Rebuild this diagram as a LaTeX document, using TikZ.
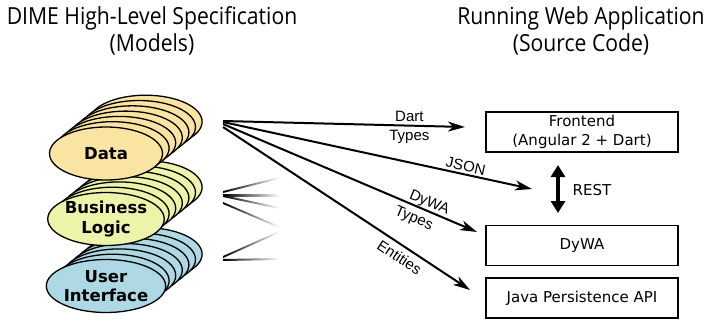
\documentclass[tikz,border=0pt]{standalone}
\usepackage{fontspec}
\setmainfont{DejaVu Sans}
\newfontfamily\labelfont{Liberation Sans}
\newfontfamily\titlefont[FakeStretch=0.9]{Open Sans}
\usetikzlibrary{arrows.meta,shapes.geometric}
\definecolor{ink}{HTML}{000000}
\definecolor{datafill}{HTML}{F9E4A2}
\definecolor{logicfill}{HTML}{EDF3A8}
\definecolor{uifill}{HTML}{ADD8E4}

\begin{document}
\begin{tikzpicture}[x=1pt,y=-1pt,text=ink,>={Stealth[length=17pt,width=10pt,inset=5pt]},
  layer/.style={ellipse,draw=ink,line width=1.3pt,minimum width=113pt,minimum height=53pt,inner sep=0pt},
  layertext/.style={font=\fontsize{16.5}{19.5}\selectfont\bfseries,align=center},
  part/.style={draw=ink,line width=1.5pt,minimum width=192pt,minimum height=40pt,inner sep=1pt,
    font=\fontsize{15}{19}\selectfont,align=center},
  flow/.style={->,line width=2pt,draw=ink},
  lbl/.style={font=\labelfont\fontsize{15}{17}\selectfont,inner sep=1pt},
  title/.style={font=\titlefont\fontsize{23.5}{27}\selectfont,align=center}]
  \useasboundingbox (0,0) rectangle (715,322);
  \node[title] (spec) at (152,31) {DIME High-Level Specification\\(Models)};
  \node[title] (app) at (581,31) {Running Web Application\\(Source Code)};

  \foreach \i in {6,...,1}{
    \node[layer,fill=uifill] (ui-\i) at (106+6.6*\i,286-5.3*\i) {};
  }
  \node[layer,fill=uifill,layertext] (ui) at (106,286) {User\\Interface};
  \foreach \i in {6,...,1}{
    \node[layer,fill=logicfill] (logic-\i) at (106+6.6*\i,219-5.3*\i) {};
  }
  \node[layer,fill=logicfill,layertext] (logic) at (106,219) {Business\\Logic};
  \foreach \i in {6,...,1}{
    \node[layer,fill=datafill] (data-\i) at (106+6.6*\i,153.5-5.3*\i) {};
  }
  \node[layer,fill=datafill,layertext] (data) at (106,153.5) {Data};

  \node[part] (front) at (582,132) {Frontend\\(Angular 2 + Dart)};
  \node[part] (dywa) at (582,245.5) {DyWA};
  \node[part] (jpa) at (582,298) {Java Persistence API};
  \node[font=\fontsize{15}{17}\selectfont] (rest) at (592,190) {REST};

  \coordinate (out-a) at (223,121);
  \coordinate (out-b) at (223,122);
  \coordinate (out-c) at (223,124);
  \coordinate (out-d) at (223,127);
  \coordinate (front-in) at (465,127);
  \coordinate (rest-in) at (532,189);
  \coordinate (dywa-in) at (477,232);
  \coordinate (jpa-in) at (470,290);
  \coordinate (rest-top) at (558,165);
  \coordinate (rest-bot) at (558,213);

  \draw[flow] (out-a) -- (front-in)
    node[lbl,pos=0.77,above=2pt] {Dart} node[lbl,pos=0.77,below=3pt] {Types};
  \draw[flow] (out-b) -- (rest-in) node[lbl,pos=0.78,sloped,above=1pt] {JSON};
  \draw[flow] (out-c) -- (dywa-in)
    node[lbl,pos=0.8,sloped,above=-1pt] {DyWA} node[lbl,pos=0.77,sloped,below=4pt] {Types};
  \draw[flow] (out-d) -- (jpa-in) node[lbl,pos=0.74,sloped,below=4pt] {Entities};
  \draw[line width=4pt,draw=ink,{Triangle[length=12pt,width=14pt]}-{Triangle[length=12pt,width=14pt]}]
    (rest-top) -- (rest-bot);

  \foreach \ya/\yb in {192/178,195/195,196/208,203/227,257/232,260/259}{
    \shade[left color=ink,right color=white] (223,\ya-1) -- (279,\yb-1) -- (279,\yb+1) -- (223,\ya+1) -- cycle;
  }
\end{tikzpicture}
\end{document}
